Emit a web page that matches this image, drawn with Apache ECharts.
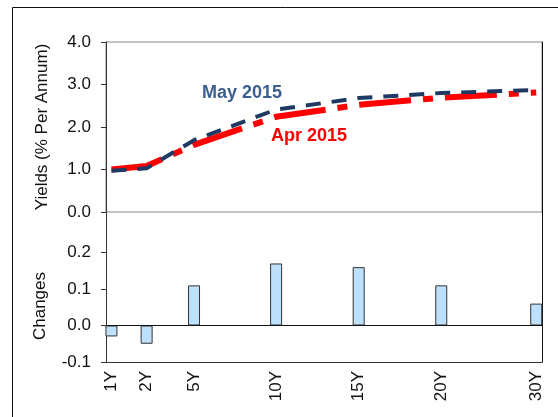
<!DOCTYPE html>
<html>
<head>
<meta charset="utf-8">
<script src="https://cdn.jsdelivr.net/npm/echarts@6/dist/echarts.min.js"></script>
<style>
html, body { margin: 0; padding: 0; background: #fff; }
#main { width: 558px; height: 417px; }
</style>
</head>
<body>
<div id="main"></div>
<script>
// tenors and their place along the horizontal scale
var tenors = ['1Y', '2Y', '5Y', '10Y', '15Y', '20Y', '30Y'];
var tenorPos = [0.33, 2.46, 5.33, 10.3, 15.3, 20.3, 26.05];
// yields (% per annum)
var may2015 = [0.97, 1.03, 1.69, 2.41, 2.68, 2.80, 2.87];
var apr2015 = [1.00, 1.08, 1.58, 2.24, 2.52, 2.69, 2.81];
// May minus April
var changes = [-0.03, -0.05, 0.11, 0.17, 0.16, 0.11, 0.06];
var yieldTicks = [0, 1, 2, 3, 4];
var changeTicks = [-0.1, 0, 0.1, 0.2];

var FONT = "'Liberation Sans', Arial, sans-serif";

function pairs(ys) {
    var out = [];
    for (var i = 0; i < ys.length; i++) {
        out.push([tenorPos[i], ys[i]]);
    }
    return out;
}

var myChart = echarts.init(document.getElementById('main'));

var option = {
    animation: false,
    backgroundColor: '#fff',
    textStyle: {fontFamily: FONT},
    grid: [
        {left: 106, top: 42, width: 436, height: 170, show: true, borderColor: '#888', borderWidth: 1},
        {left: 106, top: 212, width: 436, height: 150}
    ],
    xAxis: [
        {
            type: 'value', gridIndex: 0, min: 0, max: 26.4,
            axisLine: {show: false}, axisTick: {show: false}, axisLabel: {show: false},
            splitLine: {show: false}
        },
        {
            type: 'value', gridIndex: 1, min: 0, max: 26.4,
            axisLine: {onZero: false, lineStyle: {color: '#333', width: 1}},
            axisTick: {show: false},
            splitLine: {show: false},
            axisLabel: {
                customValues: tenorPos,
                rotate: 90,
                margin: 9,
                color: '#111',
                fontSize: 17,
                fontFamily: FONT,
                formatter: function (v) {
                    var i = tenorPos.indexOf(v);
                    return i >= 0 ? tenors[i] : '';
                }
            }
        }
    ],
    yAxis: [
        {
            type: 'value', gridIndex: 0, min: 0, max: 4, interval: 1,
            name: 'Yields (% Per Annum)', nameLocation: 'middle', nameGap: 55,
            nameTextStyle: {fontSize: 17, color: '#111', fontFamily: FONT},
            axisLine: {show: true, lineStyle: {color: '#333'}},
            axisTick: {show: true, length: 5, lineStyle: {color: '#333'}},
            axisLabel: {
                customValues: yieldTicks, margin: 15, fontSize: 17, color: '#111', fontFamily: FONT,
                formatter: function (v) { return v.toFixed(1); }
            },
            splitLine: {show: false}
        },
        {
            type: 'value', gridIndex: 1, min: -0.1, max: 0.311,
            axisLine: {show: true, onZero: false, lineStyle: {color: '#333'}},
            axisTick: {show: true, length: 5, customValues: changeTicks, lineStyle: {color: '#333'}},
            axisLabel: {
                customValues: changeTicks, margin: 15, fontSize: 17, color: '#111', fontFamily: FONT,
                formatter: function (v) { return v.toFixed(1); }
            },
            splitLine: {show: false}
        },
        // right hand border of both panels
        {
            type: 'value', gridIndex: 0, position: 'right', min: 0, max: 4,
            axisLine: {show: true, lineStyle: {color: '#111'}},
            axisTick: {show: false}, axisLabel: {show: false}, splitLine: {show: false}
        },
        {
            type: 'value', gridIndex: 1, position: 'right', min: -0.1, max: 0.311,
            axisLine: {show: true, onZero: false, lineStyle: {color: '#111'}},
            axisTick: {show: false}, axisLabel: {show: false}, splitLine: {show: false}
        }
    ],
    series: [
        {
            name: 'Apr 2015',
            type: 'line',
            xAxisIndex: 0, yAxisIndex: 0,
            symbol: 'none',
            lineStyle: {color: '#ff0000', width: 6, type: [52, 12, 10, 12]},
            data: pairs(apr2015)
        },
        {
            name: 'May 2015',
            type: 'line',
            xAxisIndex: 0, yAxisIndex: 0,
            symbol: 'none',
            lineStyle: {color: '#1f3a62', width: 4, type: [15, 11]},
            data: pairs(may2015)
        },
        {
            name: 'Changes',
            type: 'bar',
            xAxisIndex: 1, yAxisIndex: 1,
            barWidth: 12,
            itemStyle: {color: '#bde0fc', borderColor: '#333', borderWidth: 1},
            data: pairs(changes),
            markLine: {
                silent: true,
                symbol: 'none',
                label: {show: false},
                lineStyle: {color: '#111', type: 'solid', width: 1},
                data: [{yAxis: 0}]
            }
        }
    ],
    graphic: [
        {
            type: 'rect', silent: true,
            shape: {x: 12.5, y: 7.5, width: 700, height: 600},
            style: {fill: 'none', stroke: '#111', lineWidth: 1}
        },
        {
            type: 'text', left: 202, top: 84,
            style: {text: 'May 2015', fill: '#3b5e90', font: 'bold 18px ' + FONT}
        },
        {
            type: 'text', left: 271, top: 127,
            style: {text: 'Apr 2015', fill: '#ff0000', font: 'bold 18px ' + FONT}
        },
        {
            type: 'text', x: 40, y: 306, rotation: Math.PI / 2,
            style: {text: 'Changes', fill: '#111', font: '17px ' + FONT, align: 'center', verticalAlign: 'middle'}
        }
    ]
};

myChart.setOption(option);
</script>
</body>
</html>
